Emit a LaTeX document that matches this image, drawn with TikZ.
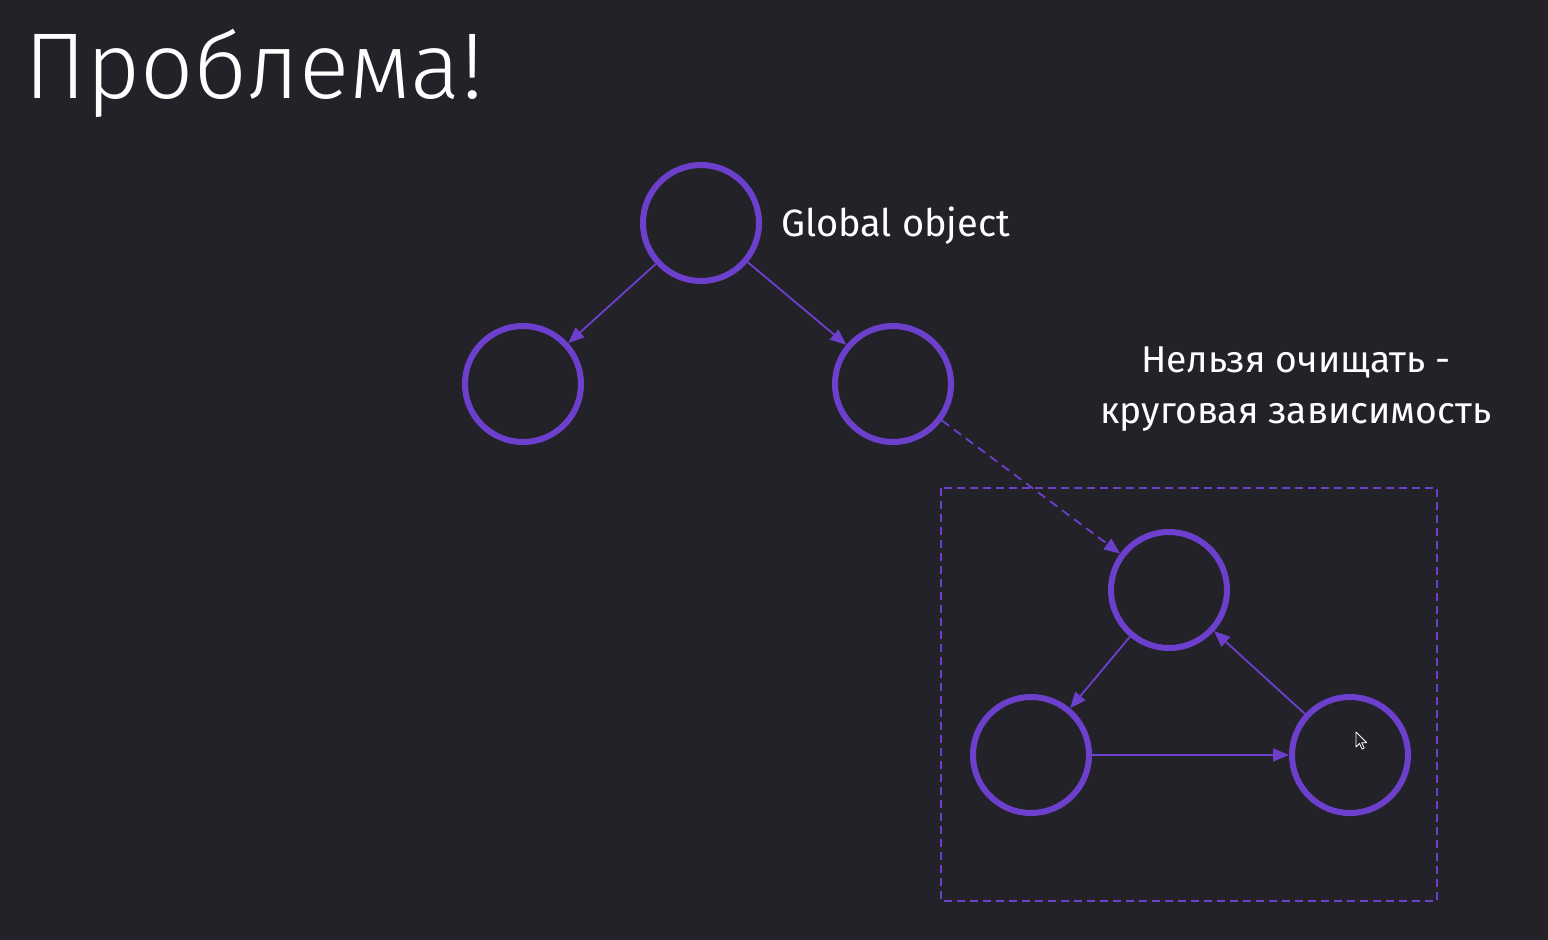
\documentclass[tikz,border=0pt]{standalone}
\usepackage{fontspec}
\setmainfont{Fira Sans}
\newfontfamily\titlefont{Fira Sans Light}
\usetikzlibrary{arrows.meta}
\definecolor{bg}{HTML}{232228}
\definecolor{vio}{HTML}{6C40CC}
\tikzset{
  obj/.style={circle,draw=vio,line width=6pt,minimum size=116pt,inner sep=0pt},
  conn/.style={draw=vio,line width=1.8pt,-{Triangle[length=16pt,width=13pt]}},
  dconn/.style={conn,dash pattern=on 9pt off 6pt},
  frame/.style={draw=vio,line width=2pt,dash pattern=on 8pt off 5pt},
  lbl/.style={text=white,inner sep=0pt}
}
\begin{document}
\begin{tikzpicture}[x=1pt,y=-1pt]
\fill[bg] (0,0) rectangle (1548,940);
\useasboundingbox (0,0) rectangle (1548,940);
\node[lbl,anchor=base west,font=\titlefont\fontsize{93.5}{94}\selectfont] (title) at (24,98) {Проблема!};
\node[obj] (g) at (701,223) {};
\node[obj] (l) at (523,384) {};
\node[obj] (r) at (893,384) {};
\node[obj] (t) at (1169,590) {};
\node[obj] (bl) at (1031,755) {};
\node[obj] (br) at (1350,755) {};
\node[lbl,anchor=base west,font=\fontsize{38}{38}\selectfont] (glab) at (781,236) {Global object};
\node[lbl,anchor=north,align=center,font=\fontsize{37.3}{51}\selectfont] (clab) at (1296,347) {Нельзя очищать -\\круговая зависимость};
\coordinate (f1) at (941,488);
\coordinate (f2) at (1437,901);
\draw[frame] (f1) rectangle (f2);
\draw[conn] (g) -- (l);
\draw[conn] (g) -- (r);
\draw[dconn] (r) -- (t);
\draw[conn] (t) -- (bl);
\draw[conn] (bl) -- (br);
\draw[conn] (br) -- (t);
\draw[fill=bg,draw=white,line width=0.8pt,line join=round] (1356,732) -- ++(0,15) -- ++(3.5,-3.5) -- ++(2.6,5.6) -- ++(2.2,-1) -- ++(-2.6,-5.4) -- ++(5,0) -- cycle;
\end{tikzpicture}
\end{document}
